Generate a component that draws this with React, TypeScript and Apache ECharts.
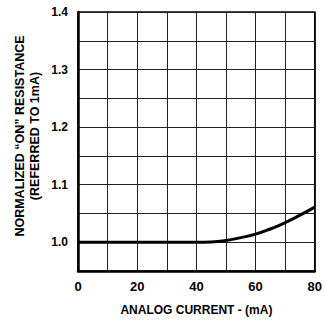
import React, { useEffect, useRef } from "react";
import * as echarts from "echarts";

const currentMA = [0, 10, 20, 30, 40, 45, 50, 55, 60, 65, 70, 75, 80];
const resistance = [1.0, 1.0, 1.0, 1.0, 1.0, 1.0005, 1.003, 1.008, 1.014, 1.023, 1.034, 1.047, 1.061];
const xTickLabels = [0, 20, 40, 60, 80];
const yTickLabels = [1.0, 1.1, 1.2, 1.3, 1.4];
const xTitle = "ANALOG CURRENT - (mA)";
const yTitle1 = "NORMALIZED \u201CON\u201D RESISTANCE";
const yTitle2 = "(REFERRED TO 1mA)";

export default function App() {
  const ref = useRef<HTMLDivElement>(null);
  useEffect(() => {
    if (!ref.current) return;
    const chart = echarts.init(ref.current, null, { renderer: "svg" });
    const font = "'Liberation Sans', Arial, sans-serif";
    chart.setOption({
      animation: false,
      backgroundColor: "#fff",
      grid: { left: 78, right: 10, top: 12, bottom: 45, show: true, borderColor: "#000", borderWidth: 1.5 },
      xAxis: {
        type: "value",
        min: 0,
        max: 80,
        interval: 10,
        axisLine: { show: true, onZero: false, lineStyle: { color: "#000", width: 2.5 } },
        axisTick: { show: false },
        splitLine: { show: true, lineStyle: { color: "#222", width: 1 } },
        axisLabel: {
          margin: 9,
          color: "#000",
          fontFamily: font,
          fontWeight: "bold",
          fontSize: 13,
          formatter: (v: number) => (xTickLabels.includes(v) ? String(v) : ""),
        },
        name: xTitle,
        nameLocation: "middle",
        nameGap: 33,
        nameTextStyle: { color: "#000", fontFamily: font, fontWeight: "bold", fontSize: 12 },
      },
      yAxis: {
        type: "value",
        min: 0.95,
        max: 1.4,
        interval: 0.05,
        axisLine: { show: true, onZero: false, lineStyle: { color: "#000", width: 2.5 } },
        axisTick: { show: false },
        splitLine: { show: true, lineStyle: { color: "#222", width: 1 } },
        axisLabel: {
          margin: 10,
          color: "#000",
          fontFamily: font,
          fontWeight: "bold",
          fontSize: 12,
          formatter: (v: number) => {
            const m = yTickLabels.find((t) => Math.abs(t - v) < 1e-6);
            return m !== undefined ? m.toFixed(1) : "";
          },
        },
      },
      graphic: [
        {
          type: "text",
          x: 20,
          y: 136,
          rotation: Math.PI / 2,
          style: {
            text: yTitle1,
            fill: "#000",
            font: `bold 12.5px ${font}`,
            align: "center",
            verticalAlign: "middle",
          },
        },
        {
          type: "text",
          x: 35,
          y: 136,
          rotation: Math.PI / 2,
          style: {
            text: yTitle2,
            fill: "#000",
            font: `bold 12.5px ${font}`,
            align: "center",
            verticalAlign: "middle",
          },
        },
      ],
      series: [
        {
          type: "line",
          data: currentMA.map((x, i) => [x, resistance[i]]),
          smooth: true,
          symbol: "none",
          lineStyle: { color: "#000", width: 3 },
        },
      ],
    });
    return () => chart.dispose();
  }, []);
  return <div ref={ref} style={{ position: "absolute", left: 0, top: 0, width: 325, height: 321 }} />;
}
